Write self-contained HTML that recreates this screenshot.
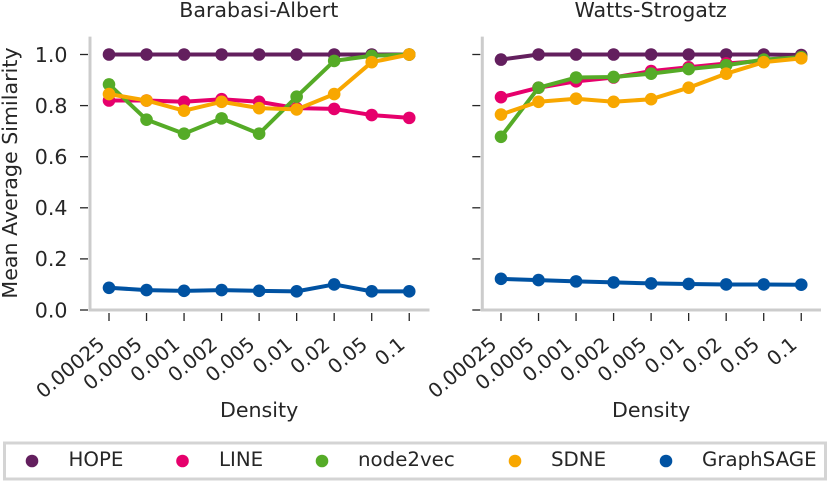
<!DOCTYPE html>
<html>
<head>
<meta charset="utf-8">
<title>Mean Average Similarity vs Density</title>
<style>
html,body{margin:0;padding:0;background:#fff;}
svg{display:block;}
text{font-family:"DejaVu Sans","Liberation Sans",sans-serif;fill:#262626;}
</style>
</head>
<body>
<svg id="chart" xmlns="http://www.w3.org/2000/svg" width="830" height="483" viewBox="0 0 830 483"></svg>
<script>
const categories = ["0.00025","0.0005","0.001","0.002","0.005","0.01","0.02","0.05","0.1"];
const yTicks = [0, 0.2, 0.4, 0.6, 0.8, 1.0];
const yTickLabels = ["0.0","0.2","0.4","0.6","0.8","1.0"];
const seriesNames = ["HOPE","LINE","node2vec","SDNE","GraphSAGE"];
const seriesColors = ["#631f5e","#e6006c","#55ab27","#f8a700","#0052a2"];
const baHope = [1,1,1,1,1,1,1,1,1];
const baLine = [0.82,0.82,0.815,0.825,0.815,0.79,0.787,0.763,0.752];
const baNode2vec = [0.883,0.745,0.69,0.75,0.69,0.835,0.975,0.995,1.0];
const baSdne = [0.845,0.82,0.78,0.815,0.79,0.785,0.845,0.97,1.0];
const baGraphsage = [0.087,0.078,0.075,0.078,0.075,0.073,0.1,0.073,0.073];
const wsHope = [0.98,1,1,1,1,1,1,1,0.998];
const wsLine = [0.833,0.87,0.895,0.91,0.935,0.95,0.965,0.975,0.99];
const wsNode2vec = [0.678,0.87,0.91,0.912,0.925,0.943,0.958,0.98,0.99];
const wsSdne = [0.765,0.815,0.827,0.815,0.825,0.87,0.925,0.97,0.985];
const wsGraphsage = [0.122,0.117,0.112,0.108,0.104,0.102,0.1,0.1,0.099];

const svg = document.getElementById('chart');
const NS = 'http://www.w3.org/2000/svg';
function mk(tag, attrs, parent, txt){
  const el = document.createElementNS(NS, tag);
  for(const k in attrs){ el.setAttribute(k, attrs[k]); }
  if(txt !== undefined){ el.textContent = txt; }
  (parent || svg).appendChild(el);
  return el;
}
function place(x, y, rot){
  return 'translate(' + x + ',' + y + ')' + (rot ? ' rotate(' + rot + ')' : '');
}
const yZero = 310, yOne = 54.5;
function yScale(v){ return yZero + (yOne - yZero) * v; }

function drawPanel(key, title, x0, xStep, spineX, spineEnd, data, showY){
  const panel = mk('g', {});
  
  
  function xScale(i){ return x0 + xStep * i; }
  const t = mk('text', {'text-anchor':'middle', 'font-size':20.6, transform:place((spineX + spineEnd)/2 - 1, 17)}, panel, title);
  
  
  const ySpine = mk('line', {x1:spineX, x2:spineX, y1:yScale(1.07), y2:yZero+1.5, stroke:'#cccccc', 'stroke-width':3}, panel);
  
  
  const xSpine = mk('line', {x1:spineX-1.5, x2:spineEnd, y1:yZero, y2:yZero, stroke:'#cccccc', 'stroke-width':3}, panel);
  
  
  yTicks.forEach(function(v, i){
    const tk = mk('line', {x1:spineX-10, x2:spineX-2, y1:yScale(v), y2:yScale(v), stroke:'#262626', 'stroke-width':1.3}, panel);
    
    
    if(showY){
      const lb = mk('text', {'text-anchor':'end', 'font-size':20.6, transform:place(spineX-22.5, yScale(v)+7.3)}, panel, yTickLabels[i]);
      
      
    }
  });
  categories.forEach(function(c, i){
    const px = xScale(i);
    const tk = mk('line', {x1:px, x2:px, y1:yZero+3, y2:yZero+11, stroke:'#262626', 'stroke-width':1.3}, panel);
    
    
    const lb = mk('text', {'text-anchor':'end', 'font-size':19.8, transform:place(px-3, yZero+36.5, -40)}, panel, c);
    
    
  });
  const xt = mk('text', {'text-anchor':'middle', 'font-size':20.6, transform:place(xScale(4), 417)}, panel, 'Density');
  
  
  data.forEach(function(vals, s){
    const g = mk('g', {}, panel);
    
    
    const pts = vals.map(function(v, i){ return xScale(i).toFixed(2) + ',' + yScale(v).toFixed(2); }).join(' ');
    const pl = mk('polyline', {points:pts, fill:'none', stroke:seriesColors[s], 'stroke-width':4, 'stroke-linejoin':'round'}, g);
    
    
    vals.forEach(function(v, i){
      const p = mk('circle', {cx:xScale(i), cy:yScale(v), r:6.3, fill:seriesColors[s]}, g);
      
      
    });
  });
}

drawPanel('barabasi-albert', 'Barabasi-Albert', 109, 37.53, 90, 429.5, [baHope, baLine, baNode2vec, baSdne, baGraphsage], true);
drawPanel('watts-strogatz', 'Watts-Strogatz', 501, 37.53, 482.3, 821, [wsHope, wsLine, wsNode2vec, wsSdne, wsGraphsage], false);

const yTitle = mk('text', {'text-anchor':'middle', 'font-size':20.6, transform:place(17, 173, -90)}, svg, 'Mean Average Similarity');



const legend = mk('g', {});


const legendBox = mk('rect', {x:4.5, y:443, width:821, height:36, fill:'#fff', stroke:'#d4d4d4', 'stroke-width':3}, legend);


const legendMarkerX = [32, 182.5, 322, 515, 666];
const legendTextX = [68.5, 219, 358, 551, 702];
seriesNames.forEach(function(n, i){
  const e = mk('g', {}, legend);
  
  
  const c = mk('circle', {cx:legendMarkerX[i], cy:461, r:6.3, fill:seriesColors[i]}, e);
  
  
  const t = mk('text', {'font-size':19.8, transform:place(legendTextX[i], 466)}, e, n);
  
  
});
</script>
</body>
</html>
